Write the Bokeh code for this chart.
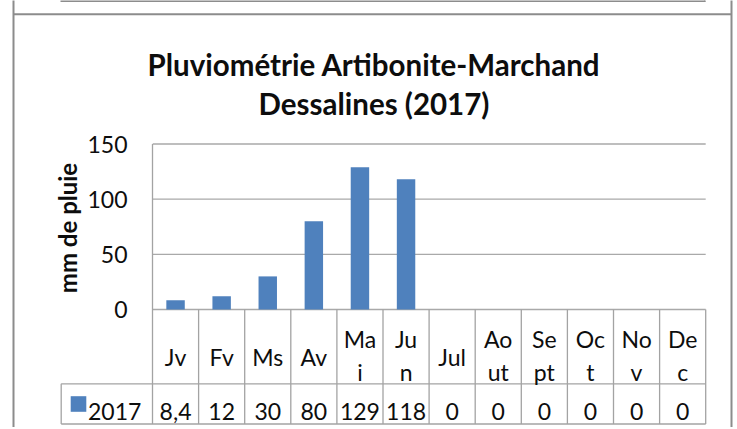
import math
from bokeh.plotting import figure
from bokeh.models import Range1d, FixedTicker, LinearAxis
from bokeh.core.properties import value
from bokeh.embed import file_html
from bokeh.resources import INLINE

# ---------------- data ----------------
title_lines = ["Pluviométrie Artibonite-Marchand", "Dessalines (2017)"]
y_label = "mm de pluie"
series_name = "2017"
months = ["Jv", "Fv", "Ms", "Av", "Ma\ni", "Ju\nn", "Jul",
          "Ao\nut", "Se\npt", "Oc\nt", "No\nv", "De\nc"]
rain_mm = [8.4, 12, 30, 80, 129, 118, 0, 0, 0, 0, 0, 0]
y_ticks = [0, 50, 100, 150]

# ---------------- geometry (page pixels) ----------------
W, H = 733, 427
OFF = 0
FRAME_L = 152.0
COL_W = 46.1
ZERO_Y = 309.0
TOP_Y = 143.5
K = (ZERO_Y - TOP_Y) / 150.0

def X(px):
    return (px - FRAME_L) / COL_W

def Y(py):
    return (ZERO_Y - py) / K

FONT = value("Lato")
TXT = "#0d0d0d"
GRID = "#a9a9a9"
TAB = "#a3a3a3"
BORDER = "#8c8c8c"
BLUE = "#4F81BD"

p = figure(width=W, height=H,
           x_range=Range1d(X(FRAME_L), X(OFF + W)),
           y_range=Range1d(Y(OFF + H), Y(OFF)),
           x_axis_type=None, y_axis_type=None,
           output_backend="svg", toolbar_location=None,
           min_border_left=int(FRAME_L - OFF), min_border_right=0,
           min_border_top=0, min_border_bottom=0)
p.outline_line_color = None
p.background_fill_color = "white"
p.border_fill_color = "white"

yaxis = LinearAxis(ticker=FixedTicker(ticks=y_ticks),
                   axis_line_color=None,
                   major_tick_line_color=None, minor_tick_line_color=None,
                   major_tick_in=0, major_tick_out=0,
                   major_label_standoff=25,
                   major_label_text_font="Lato",
                   major_label_text_font_size="23px",
                   major_label_text_color=TXT)
p.add_layout(yaxis, "left")

n = len(months)

# gridlines (including the zero line)
p.segment(x0=[0] * len(y_ticks), x1=[n] * len(y_ticks), y0=y_ticks, y1=y_ticks,
          line_color=GRID, line_width=1.3)

# bars
p.vbar(x=[i + 0.5 for i in range(n)], top=rain_mm, bottom=0, width=0.4,
       fill_color=BLUE, line_color=None)

# ---------------- data table ----------------
ROW_Y = 383.3
BOT_Y = 423.5
LEG_L = 60.7

vx = list(range(n + 1))
vy0 = [Y(ZERO_Y)] * (n + 1)
vy0[0] = max(y_ticks)  # value axis line continues upward
p.segment(x0=vx, x1=vx, y0=vy0, y1=[Y(BOT_Y)] * (n + 1),
          line_color=TAB, line_width=1.3, level="overlay")
p.segment(x0=[X(LEG_L), X(LEG_L), X(LEG_L)],
          x1=[n, n, X(LEG_L)],
          y0=[Y(ROW_Y), Y(BOT_Y), Y(ROW_Y)],
          y1=[Y(ROW_Y), Y(BOT_Y), Y(BOT_Y)],
          line_color=TAB, line_width=1.3, level="overlay")

one_x, one_t, top_x, top_t, bot_x, bot_t = [], [], [], [], [], []
for i, m in enumerate(months):
    parts = m.split("\n")
    if len(parts) == 1:
        one_x.append(i + 0.5); one_t.append(parts[0])
    else:
        top_x.append(i + 0.5); top_t.append(parts[0])
        bot_x.append(i + 0.5); bot_t.append(parts[1])

lab = dict(text_font=FONT, text_font_size="23px", text_color=TXT,
           text_align="center", text_baseline="alphabetic", level="overlay")
p.text(x=one_x, y=[Y(356.0)] * len(one_x), text=one_t, **lab)
p.text(x=top_x, y=[Y(338.0)] * len(top_x), text=top_t, **lab)
p.text(x=bot_x, y=[Y(371.0)] * len(bot_x), text=bot_t, **lab)

val_txt = [("%g" % v).replace(".", ",") for v in rain_mm]
p.text(x=[i + 0.5 for i in range(n)], y=[Y(411.0)] * n, text=val_txt, **lab)

# legend key (square drawn as a thick butt-capped stroke)
p.segment(x0=[X(70.2)], x1=[X(85.8)], y0=[Y(403.5)], y1=[Y(403.5)],
          line_color=BLUE, line_width=15.6, line_cap="butt", level="overlay")
p.text(x=[X(87.5)], y=[Y(411.0)], text=[series_name],
       text_font=FONT, text_font_size="23px", text_color=TXT,
       text_align="left", text_baseline="alphabetic", level="overlay")

# axis title
p.text(x=[X(67.0)], y=[Y(227.5)], text=[y_label], angle=math.pi / 2,
       text_font=FONT, text_font_size="24px", text_font_style="bold",
       text_color=TXT, text_align="center", text_baseline="middle",
       level="overlay")

# chart title
p.text(x=[X(373.5)] * 2, y=[Y(64.3), Y(102.7)], text=title_lines,
       text_font=FONT, text_font_size="29.5px", text_font_style="bold",
       text_color=TXT, text_align="center", text_baseline="alphabetic",
       level="overlay")

# chart area border + edge of the element above
BL, BR, BT = 13.0, 731.0, 13.7
p.segment(x0=[X(BL), X(BR), X(BL)], x1=[X(BL), X(BR), X(BR)],
          y0=[Y(OFF), Y(OFF), Y(BT)], y1=[Y(OFF + H), Y(OFF + H), Y(BT)],
          line_color=BORDER, line_width=2, level="overlay")
p.segment(x0=[X(60.0), X(704.5)], x1=[X(704.5), X(704.5)],
          y0=[Y(0.7), Y(0.0)], y1=[Y(0.7), Y(1.5)],
          line_color=BORDER, line_width=1.4, level="overlay")

open("out.html", "w").write(file_html(p, INLINE))
